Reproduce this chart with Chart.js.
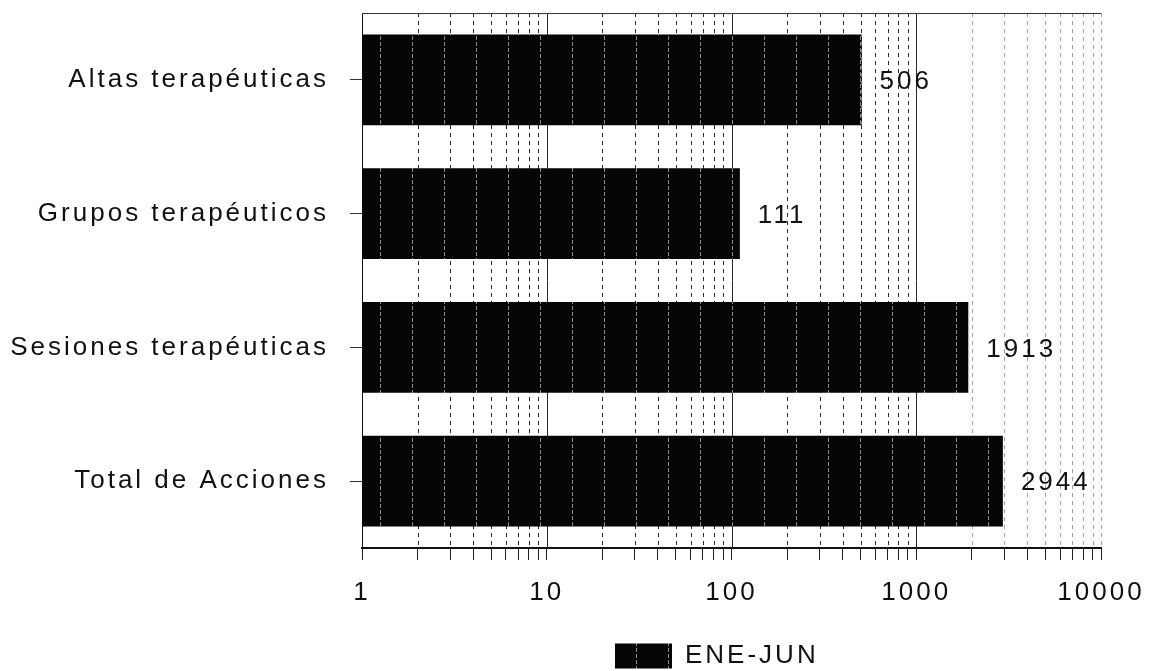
<!DOCTYPE html>
<html>
<head>
<meta charset="utf-8">
<script src="https://cdn.jsdelivr.net/npm/chart.js@4.4.1/dist/chart.umd.min.js"></script>
<style>
  html, body { margin: 0; padding: 0; background: #fff; }
</style>
</head>
<body>
<canvas id="barChart" width="1153" height="671"></canvas>
<script>
var categories = ['Altas terapéuticas', 'Grupos terapéuticos', 'Sesiones terapéuticas', 'Total de Acciones'];
var values = [506, 111, 1913, 2944];
var seriesName = 'ENE-JUN';
var tickLabels = [1, 10, 100, 1000, 10000];

Chart.defaults.font.family = "'Liberation Sans', Arial, sans-serif";
Chart.defaults.color = '#111';

var ctx = document.getElementById('barChart').getContext('2d');

// black fill with the faint printed stripes every 32px
var tile = document.createElement('canvas');
tile.width = 32;
tile.height = 6;
var tctx = tile.getContext('2d');
tctx.fillStyle = '#050505';
tctx.fillRect(0, 0, 32, 6);
tctx.fillStyle = '#8a8a8a';
tctx.fillRect(28, 0, 1, 4);
var stripes = ctx.createPattern(tile, 'repeat');

function spacing(chart) {
    chart.ctx.letterSpacing = '3px';
}

var chartPlugin = {
    id: 'printLook',
    beforeUpdate: spacing,
    beforeLayout: spacing,
    beforeDraw: spacing,
    afterLayout: function(chart) {
        chart.legend.left = 611;
        chart.legend.top = 639;
        chart.legend.bottom = 671;
    },
    beforeDatasetsDraw: function(chart) {
        var c = chart.ctx, a = chart.chartArea, x = chart.scales.x;
        c.save();
        c.lineWidth = 1;
        x.ticks.forEach(function(t) {
            var v = t.value;
            if (v === 1) return;
            var px = Math.round(x.getPixelForValue(v)) + 0.5;
            var decade = tickLabels.indexOf(v) >= 0 && v < 10000;
            c.strokeStyle = v > 1000 ? '#a0a0a0' : '#2a2a2a';
            c.setLineDash(decade ? [] : [4, 4]);
            c.beginPath();
            c.moveTo(px, a.top);
            c.lineTo(px, a.bottom);
            c.stroke();
        });
        c.setLineDash([]);
        c.strokeStyle = '#333';
        c.beginPath();
        c.moveTo(a.left, a.top + 0.5);
        c.lineTo(a.right, a.top + 0.5);
        c.stroke();
        c.restore();
    },
    afterDatasetsDraw: function(chart) {
        var c = chart.ctx;
        c.save();
        c.letterSpacing = '3px';
        c.font = "26px 'Liberation Sans', Arial, sans-serif";
        c.fillStyle = '#111';
        c.textAlign = 'left';
        c.textBaseline = 'middle';
        chart.getDatasetMeta(0).data.forEach(function(bar, i) {
            c.fillText(String(values[i]), bar.x + 18, bar.y + 2);
        });
        c.restore();
    }
};

new Chart(ctx, {
    type: 'bar',
    data: {
        labels: categories,
        datasets: [{
            label: seriesName,
            data: values,
            backgroundColor: stripes,
            borderWidth: 0,
            categoryPercentage: 1,
            barPercentage: 0.68
        }]
    },
    options: {
        indexAxis: 'y',
        responsive: false,
        animation: false,
        devicePixelRatio: 1,
        layout: { padding: { top: 13, right: 52, left: 0, bottom: 0 } },
        plugins: {
            tooltip: { enabled: false },
            legend: {
                position: 'bottom',
                align: 'start',
                labels: {
                    boxWidth: 57,
                    boxHeight: 25,
                    padding: 4,
                    color: '#111',
                    font: { size: 26 }
                }
            }
        },
        scales: {
            x: {
                type: 'logarithmic',
                min: 1,
                max: 10000,
                afterBuildTicks: function(scale) {
                    var t = [];
                    for (var i = 0; i < tickLabels.length - 1; i++) {
                        for (var m = 1; m < 10; m++) t.push({ value: tickLabels[i] * m });
                    }
                    t.push({ value: tickLabels[tickLabels.length - 1] });
                    scale.ticks = t;
                },
                afterFit: function(scale) {
                    scale.height = 83;
                    scale.paddingLeft = 0;
                    scale.paddingRight = 0;
                },
                grid: { drawOnChartArea: false, drawTicks: true, tickLength: 12, tickColor: '#222' },
                border: { display: true, color: '#111', width: 2 },
                ticks: {
                    autoSkip: false,
                    maxRotation: 0,
                    padding: 17,
                    color: '#111',
                    font: { size: 26 },
                    callback: function(v) { return tickLabels.indexOf(v) >= 0 ? String(v) : ''; }
                }
            },
            y: {
                afterFit: function(scale) {
                    scale.width = 362;
                    scale.paddingTop = 0;
                    scale.paddingBottom = 0;
                },
                grid: { offset: false, drawOnChartArea: false, drawTicks: true, tickLength: 12, tickColor: '#333' },
                border: { display: true, color: '#111', width: 1 },
                ticks: {
                    padding: 21,
                    color: '#111',
                    font: { size: 26 }
                }
            }
        }
    },
    plugins: [chartPlugin]
});
</script>
</body>
</html>
